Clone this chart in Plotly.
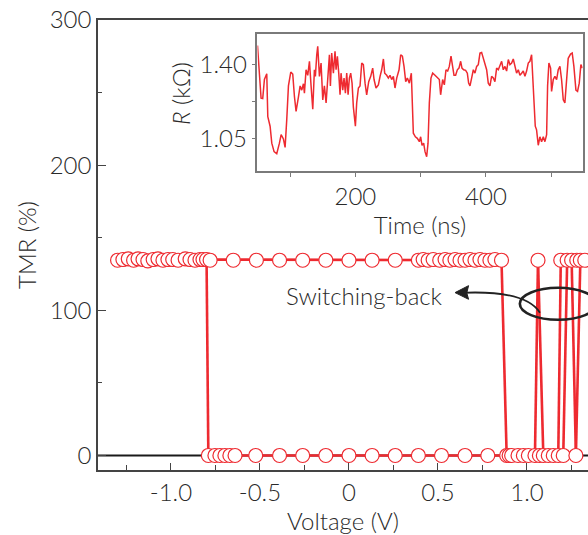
import plotly.graph_objects as go

# ---- main panel: TMR vs bias voltage ----
upper_v = [-1.30, -1.27, -1.24, -1.21, -1.185, -1.157, -1.13, -1.10, -1.073, -1.045,
           -1.017, -0.99, -0.96, -0.92, -0.893, -0.865, -0.837, -0.82, -0.80, -0.78,
           -0.65, -0.52, -0.39, -0.26, -0.13, 0.0, 0.13, 0.26, 0.39, 0.417,
           0.445, 0.473, 0.51, 0.54, 0.567, 0.596, 0.624, 0.652, 0.68, 0.708,
           0.736, 0.764, 0.792, 0.82, 0.857]
upper_tmr = [134.5, 135, 135.5, 134.5, 135.5, 135, 134, 135, 135.5, 134.5,
             135, 135, 134.5, 135.5, 135, 134.5, 135, 135, 135, 134.5,
             134.5, 134.5, 134.5, 134.5, 134.5, 134.5, 134.5, 134.5, 134.5, 135,
             134.5, 135, 134.5, 135, 134.5, 135, 134.5, 134.5, 135, 134.5,
             135, 134.5, 134.5, 135, 134.5]

# high-resistance states reached again after switching back at high bias
back_v = [1.062, 1.19, 1.226, 1.251, 1.28, 1.30, 1.325]
back_tmr = [134.5, 134.5, 134.5, 134.5, 134.5, 134.5, 134.5]

lower_v = [-0.79, -0.753, -0.725, -0.697, -0.669, -0.64, -0.524, -0.39, -0.26, -0.13,
           0.0, 0.13, 0.26, 0.39, 0.52, 0.652, 0.78, 0.886, 0.90, 0.914,
           0.95, 0.98, 1.008, 1.045, 1.07, 1.092, 1.12, 1.148, 1.176, 1.204, 1.275]
lower_tmr = [0] * len(lower_v)

# switching events: (voltage in high state, voltage in low state)
switch_hi_v = [-0.80, 0.857, 1.062, 1.062, 1.19, 1.226, 1.251, 1.30]
switch_lo_v = [-0.79, 0.886, 1.045, 1.092, 1.176, 1.204, 1.275, 1.275]
switch_hi_tmr = 134.5
switch_lo_tmr = 0

x_ticks = [-1.0, -0.5, 0, 0.5, 1.0]
x_tick_text = ["-1.0", "-0.5", "0", "0.5", "1.0"]
y_ticks = [0, 100, 200, 300]

# ---- inset: resistance vs time ----
time_ns = [50, 53, 55.5, 58, 60.6, 64.2, 65.8, 69.3, 71.9, 75.4, 79.5, 83.6, 86.2, 89.7,
           92.3, 94.8, 97.4, 101, 104, 106.6, 109.1, 112.7, 115.3, 117.8, 120.4, 121.9,
           124.4, 127, 129.6, 132.1, 134.7, 137.2, 138.7, 140.8, 142.3, 144.9, 147.4,
           150, 152.5, 155.1, 157.6, 160.2, 161.7, 163.7, 166.3, 168.8, 170.4, 172.4,
           174.5, 176.5, 178, 180.6, 182.6, 184.7, 186.7, 188.8, 190.8, 192.8, 194.9,
           196.9, 200, 202, 204.6, 207.1, 209.7, 212.2, 214.8, 217.3, 220.4, 223.5,
           226.5, 228.6, 231.6, 235.2, 237.8, 240.3, 242.9, 244.9, 248, 250.5, 253,
           255.6, 258.2, 260.7, 263.3, 266.9, 269.4, 272, 274.5, 277.1, 279.6, 282.7,
           285.7, 287.3, 288.8, 291.9, 294.9, 298, 300, 302.1, 304.6, 306.7, 309.2,
           311.3, 313.3, 315.8, 318.4, 322, 325.5, 328.6, 330.6, 333.7, 336.3, 338.8,
           341.4, 343.9, 346.5, 348.5, 351.1, 353.6, 356.2, 358.7, 361.3, 363.3, 365.9,
           368.9, 371.5, 373.5, 375.6, 378.1, 380.7, 383.2, 385.8, 388.3, 390.9, 393.4,
           396, 398.5, 401.1, 403.6, 406.2, 408.7, 411.3, 413.8, 416.4, 419, 421.5,
           424.1, 426.6, 429.2, 431.7, 434.3, 436.8, 439.4, 441.9, 444.5, 447, 449.6,
           452.1, 454.7, 457.2, 459.8, 462.3, 464.9, 467.4, 470, 471.5, 473.6, 475.6,
           477.6, 480.2, 482.7, 485.3, 487.9, 490.4, 493, 494.5, 496.5, 499.1, 500.6,
           503.2, 505.7, 508.3, 510.8, 513.4, 515.9, 518.5, 521, 523.6, 526.1, 529.7,
           532.2, 534.8, 537.9, 540.4, 543, 545.5, 548]
resist_kohm = [1.49, 1.376, 1.242, 1.24, 1.33, 1.357, 1.155, 1.11, 1.03, 0.99, 0.98, 1.03,
               1.07, 1.05, 1.01, 1.14, 1.30, 1.365, 1.356, 1.25, 1.18, 1.247, 1.30, 1.28,
               1.31, 1.266, 1.376, 1.35, 1.416, 1.30, 1.19, 1.376, 1.345, 1.447, 1.487,
               1.345, 1.408, 1.234, 1.30, 1.22, 1.33, 1.447, 1.30, 1.455, 1.36, 1.463,
               1.376, 1.44, 1.36, 1.258, 1.36, 1.28, 1.337, 1.266, 1.36, 1.258, 1.337,
               1.36, 1.313, 1.20, 1.11, 1.22, 1.29, 1.30, 1.408, 1.40, 1.313, 1.258,
               1.32, 1.345, 1.384, 1.33, 1.29, 1.305, 1.345, 1.376, 1.427, 1.36, 1.35,
               1.337, 1.35, 1.33, 1.345, 1.29, 1.337, 1.376, 1.447, 1.44, 1.392, 1.32,
               1.337, 1.313, 1.36, 1.20, 1.077, 1.06, 1.053, 1.037, 1.06, 1.02, 1.03,
               0.99, 0.966, 1.03, 1.22, 1.337, 1.36, 1.35, 1.337, 1.33, 1.258, 1.33,
               1.305, 1.376, 1.37, 1.392, 1.44, 1.40, 1.35, 1.35, 1.376, 1.384, 1.416,
               1.384, 1.376, 1.373, 1.36, 1.313, 1.30, 1.337, 1.376, 1.36, 1.392, 1.40,
               1.455, 1.458, 1.43, 1.40, 1.376, 1.313, 1.30, 1.345, 1.337, 1.32, 1.384,
               1.376, 1.40, 1.416, 1.376, 1.392, 1.37, 1.424, 1.40, 1.408, 1.427, 1.384,
               1.36, 1.376, 1.35, 1.36, 1.37, 1.345, 1.37, 1.408, 1.416, 1.447, 1.36,
               1.187, 1.11, 1.093, 1.02, 1.06, 1.037, 1.06, 1.037, 1.07, 1.30, 1.408,
               1.384, 1.274, 1.33, 1.345, 1.33, 1.376, 1.392, 1.33, 1.234, 1.22, 1.337,
               1.43, 1.45, 1.455, 1.392, 1.28, 1.274, 1.313, 1.40, 1.384]

inset_x_ticks = [200, 400]
inset_y_ticks = [1.05, 1.40]
inset_y_tick_text = ["1.05", "1.40"]

RED = "#ee2a30"
INK = "#2a2a2a"
FONT = "Lato"
FS = 24

fig = go.Figure()

# switching transitions (drawn first so circles sit on top)
sw_x, sw_y = [], []
for hv, lv in zip(switch_hi_v, switch_lo_v):
    sw_x += [hv, lv, None]
    sw_y += [switch_hi_tmr, switch_lo_tmr, None]
fig.add_trace(go.Scatter(x=sw_x, y=sw_y, mode="lines",
                         line=dict(color=RED, width=2.6), hoverinfo="skip"))

marker = dict(symbol="circle", size=14, color="white", line=dict(color=RED, width=1.2))
fig.add_trace(go.Scatter(x=lower_v, y=lower_tmr, mode="lines+markers",
                         line=dict(color=RED, width=2.6), marker=marker))
fig.add_trace(go.Scatter(x=upper_v, y=upper_tmr, mode="lines+markers",
                         line=dict(color=RED, width=2.6), marker=marker))
fig.add_trace(go.Scatter(x=back_v, y=back_tmr, mode="markers", marker=marker))

# inset trace
fig.add_trace(go.Scatter(x=time_ns, y=resist_kohm, mode="lines", xaxis="x2", yaxis="y2",
                         line=dict(color=RED, width=1.5)))

axis_font = dict(family=FONT, size=FS, color=INK, weight=300)

fig.update_layout(
    width=588, height=535,
    margin=dict(l=98, r=0, t=20, b=65),
    paper_bgcolor="white", plot_bgcolor="white",
    showlegend=False,
    font=dict(family=FONT, color=INK, weight=300),
    xaxis=dict(range=[-1.41, 1.343], domain=[0, 1], showgrid=False, zeroline=False,
               showline=True, linecolor="#444444", linewidth=1.6, mirror=True,
               ticks="inside", ticklen=7, tickwidth=1.2, tickcolor="#444444",
               tickvals=x_ticks, ticktext=x_tick_text, tickfont=axis_font,
               minor=dict(tickvals=[-1.25, -0.75, -0.25, 0.25, 0.75, 1.25],
                          ticks="inside", ticklen=5, tickwidth=1.2, tickcolor="#444444"),
               title=dict(text="Voltage (V)", font=axis_font, standoff=10)),
    yaxis=dict(range=[-10, 300], domain=[0, 1], showgrid=False, zeroline=False,
               showline=True, linecolor="#444444", linewidth=1.6,
               ticks="inside", ticklen=8, tickwidth=1.2, tickcolor="#444444",
               tickvals=y_ticks, tickfont=axis_font,
               minor=dict(tickvals=[50, 150, 250], ticks="inside", ticklen=4,
                          tickwidth=1.2, tickcolor="#444444"),
               title=dict(text="TMR (%)", font=axis_font, standoff=6)),
    xaxis2=dict(anchor="y2", domain=[0.3255, 0.9888], range=[50, 548],
                showgrid=False, zeroline=False, showline=True, mirror=True,
                linecolor="#7a7a7a", linewidth=1.5,
                ticks="outside", ticklen=4, tickwidth=1.2, tickcolor="#7a7a7a",
                tickvals=inset_x_ticks, tickfont=axis_font,
                minor=dict(tickvals=[100, 300, 500], ticks="outside", ticklen=4,
                           tickwidth=1.2, tickcolor="#7a7a7a"),
                title=dict(text="Time (ns)", font=axis_font, standoff=4)),
    yaxis2=dict(anchor="x2", domain=[0.665, 0.97], range=[0.90, 1.547],
                showgrid=False, zeroline=False, showline=True, mirror=True,
                linecolor="#7a7a7a", linewidth=1.5,
                ticks="outside", ticklen=4, tickwidth=1.2, tickcolor="#7a7a7a",
                tickvals=inset_y_ticks, ticktext=inset_y_tick_text, tickfont=axis_font,
                minor=dict(tickvals=[1.225], ticks="outside", ticklen=4,
                           tickwidth=1.2, tickcolor="#7a7a7a")),
)

# baseline at zero TMR
fig.add_shape(type="line", xref="paper", x0=0, x1=1, yref="y", y0=0, y1=0,
              line=dict(color="#1a1a1a", width=2), layer="below")

# ellipse around the switching-back events
fig.add_shape(type="circle", xref="x", yref="y", x0=0.96, x1=1.39, y0=93.5, y1=115.5,
              line=dict(color="#222222", width=2.6))

# curved arrow from the ellipse to the label
fig.add_shape(type="path", xref="x", yref="y",
              path="M 1.073,98.4 Q 0.989,114.3 0.62,112.0",
              line=dict(color="#222222", width=1.8))
fig.add_shape(type="path", xref="x", yref="y",
              path="M 0.596,112.2 L 0.672,117.0 L 0.662,112.0 L 0.672,107.6 Z",
              fillcolor="#222222", line=dict(color="#222222", width=1))

fig.add_annotation(text="Switching-back", x=0.54, y=110.5, xref="x", yref="y",
                   xanchor="right", yanchor="middle", showarrow=False,
                   font=dict(family=FONT, size=FS, color=INK, weight=300))

# inset y title
fig.add_annotation(text="<i>R</i> (kΩ)", xref="paper", yref="paper",
                   x=(181 - 98) / 490, y=(470 - 94) / 450,
                   xanchor="center", yanchor="middle",
                   showarrow=False, textangle=-90,
                   font=dict(family=FONT, size=FS, color=INK, weight=300))

fig.write_html("out.html")
